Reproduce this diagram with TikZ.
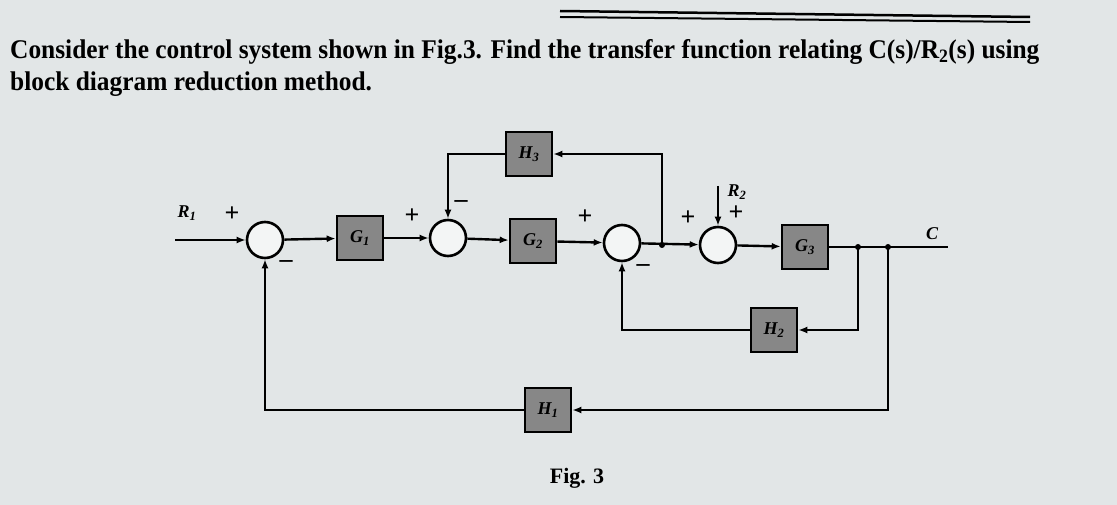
\documentclass[tikz,border=0pt]{standalone}
\usepackage{fontspec}
\setmainfont{Liberation Serif}
\usetikzlibrary{arrows.meta}
\definecolor{bg}{RGB}{226,230,231}
\definecolor{blk}{RGB}{135,135,135}
\begin{document}
\begin{tikzpicture}[x=1pt,y=-1pt,
  blockbox/.style={draw,line width=2.6pt,fill=blk,minimum width=46pt,minimum height=44pt,inner sep=0pt,font=\bfseries\itshape\fontsize{18}{20}\selectfont},
  sumnode/.style={draw,circle,line width=2.6pt,minimum size=36pt,inner sep=0pt,fill=white!60!bg},
  ln/.style={line width=2.4pt},
  arr/.style={ln,-{Latex[length=9pt,width=7pt]}},
  lbl/.style={font=\bfseries\itshape\fontsize{18}{20}\selectfont},
  sgn/.style={font=\bfseries\fontsize{26}{28}\selectfont}]
\fill[bg] (0,0) rectangle (1117,505);
\useasboundingbox (0,0) rectangle (1117,505);
\draw[line width=2.5pt] (560,11) -- (1030,17);
\draw[line width=2pt] (560,17) -- (1030,22);
\node[anchor=west,font=\bfseries\fontsize{27}{30}\selectfont,inner sep=0pt] (t1) at (10,52) {\scalebox{0.94}[1]{Consider the control system shown in Fig.3. Find the transfer function relating C(s)/R\textsubscript{2}(s) using}};
\node[anchor=west,font=\bfseries\fontsize{27}{30}\selectfont,inner sep=0pt] (t2) at (10,84) {\scalebox{0.94}[1]{block diagram reduction method.}};

\coordinate (in) at (175,240);
\node[sumnode] (s1) at (265,240) {};
\node[blockbox] (g1) at (360,238) {G\textsubscript{1}};
\node[sumnode] (s2) at (448,238) {};
\node[blockbox] (g2) at (533,241) {G\textsubscript{2}};
\node[blockbox] (h3) at (529,154) {H\textsubscript{3}};
\node[sumnode] (s3) at (622,243) {};
\node[sumnode] (s4) at (718,245) {};
\node[blockbox] (g3) at (805,247) {G\textsubscript{3}};
\node[blockbox] (h2) at (774,330) {H\textsubscript{2}};
\node[blockbox] (h1) at (548,410) {H\textsubscript{1}};
\coordinate (b1) at (662,245);
\coordinate (b2) at (858,247);
\coordinate (b3) at (888,247);
\coordinate (out) at (948,247);
\coordinate (r2) at (718,186);

\draw[arr] (in) -- (s1);
\draw[arr] (s1) -- (g1);
\draw[arr] (g1) -- (s2);
\draw[arr] (s2) -- (g2);
\draw[arr] (g2) -- (s3);
\draw[arr] (s3) -- (s4);
\draw[arr] (s4) -- (g3);
\draw[ln] (g3) -- (out);
\draw[arr] (r2) -- (s4);
\draw[arr] (b1) |- (h3);
\draw[arr] (h3) -| (s2);
\draw[arr] (b2) |- (h2);
\draw[arr] (h2) -| (s3);
\draw[arr] (b3) |- (h1);
\draw[arr] (h1) -| (s1);
\foreach \p in {b1,b2,b3} \fill (\p) circle (3pt);

\node[lbl] (lr1) at (187,213) {R\textsubscript{1}};
\node[sgn] at (232,214) {+};
\node[sgn] at (286,264) {--};
\node[sgn] at (412,216) {+};
\node[sgn] at (461,204) {--};
\node[sgn] at (585,217) {+};
\node[sgn] at (643,268) {--};
\node[sgn] at (688,218) {+};
\node[sgn] at (736,213) {+};
\node[lbl] (lr2) at (737,192) {R\textsubscript{2}};
\node[lbl] (lc) at (932,234) {C};
\node[font=\bfseries\fontsize{22}{24}\selectfont] (fig) at (577,478) {Fig. 3};
\end{tikzpicture}
\end{document}
